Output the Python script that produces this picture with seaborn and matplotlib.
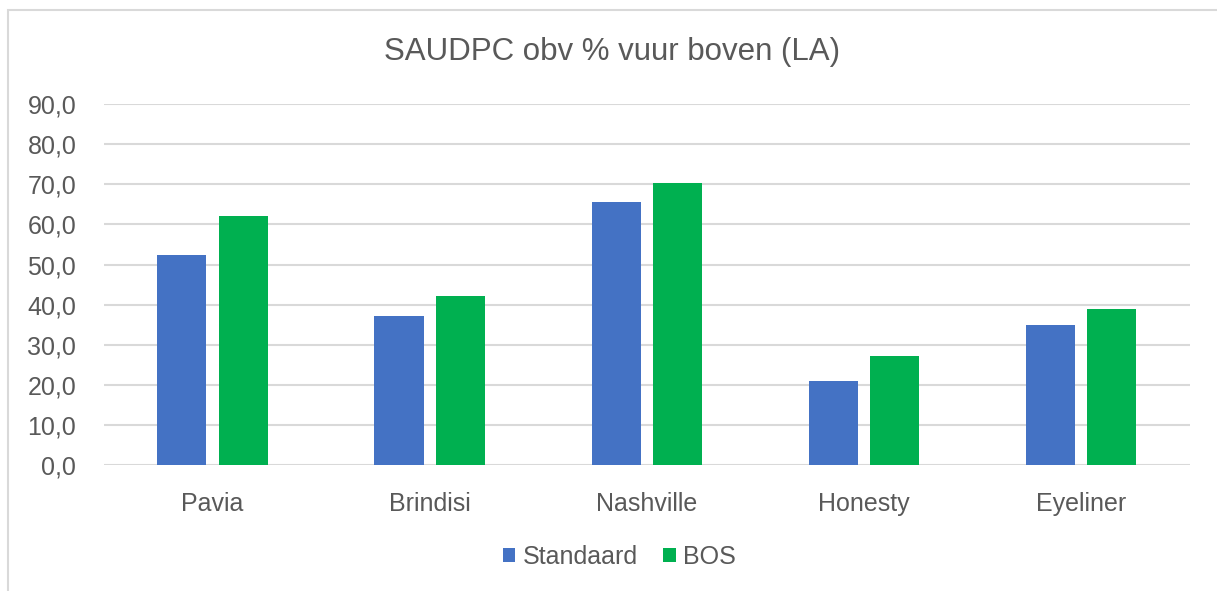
import pandas as pd
import seaborn as sns
import matplotlib.pyplot as plt
from matplotlib.patches import Patch, Rectangle

# waarden
rassen = ["Pavia", "Brindisi", "Nashville", "Honesty", "Eyeliner"]
standaard = [52.4, 37.1, 65.7, 20.9, 35.0]
bos = [62.2, 42.1, 70.2, 27.3, 39.0]
series = ["Standaard", "BOS"]
kleuren = ["#4472C4", "#00B050"]
yticks = [0, 10, 20, 30, 40, 50, 60, 70, 80, 90]

df = pd.DataFrame({
    "ras": rassen * 2,
    "serie": [series[0]] * len(rassen) + [series[1]] * len(rassen),
    "waarde": standaard + bos,
})

sns.set_style("white")
plt.rcParams["font.family"] = ["Liberation Sans", "DejaVu Sans"]
tekst = "#595959"
grijs = "#d9d9d9"

fig = plt.figure(figsize=(12.17, 5.91), dpi=100)
ax = fig.add_axes([0.0855, 0.213, 0.892, 0.611])

sns.barplot(data=df, x="ras", y="waarde", hue="serie", order=rassen,
            hue_order=series, palette=kleuren, saturation=1, width=0.566,
            gap=0.2, edgecolor="none", legend=False, ax=ax, zorder=3)

ax.set_ylim(0, 90)
ax.set_yticks(yticks)
ax.set_yticklabels([f"{v:.1f}".replace(".", ",") for v in yticks])
ax.set_xlim(-0.5, len(rassen) - 0.5)
ax.grid(axis="y", color=grijs, linewidth=1.5, zorder=0)
ax.set_axisbelow(True)
for s in ax.spines.values():
    s.set_visible(False)
ax.tick_params(axis="y", length=0, pad=20, labelsize=18, labelcolor=tekst)
ax.tick_params(axis="x", length=0, pad=19, labelsize=18, labelcolor=tekst)
ax.set_xlabel("")
ax.set_ylabel("")

fig.text(0.503, 0.912, "SAUDPC obv % vuur boven (LA)", ha="center",
         va="center", fontsize=22.5, color=tekst)

handles = [Patch(facecolor=c, edgecolor="none") for c in kleuren]
fig.legend(handles, series, loc="center", bbox_to_anchor=(0.509, 0.0575),
           ncol=2, frameon=False, fontsize=18, labelcolor=tekst,
           handlelength=0.5, handleheight=0.5, handletextpad=0.3,
           columnspacing=1.0)

# rand van het grafiekgebied
fig.patches.append(Rectangle((8 / 1217, -0.1), 1.2, 1 - 10 / 591 + 0.1,
                             transform=fig.transFigure, fill=False,
                             edgecolor=grijs, linewidth=1.5))

fig.savefig("out.png", dpi=100)
